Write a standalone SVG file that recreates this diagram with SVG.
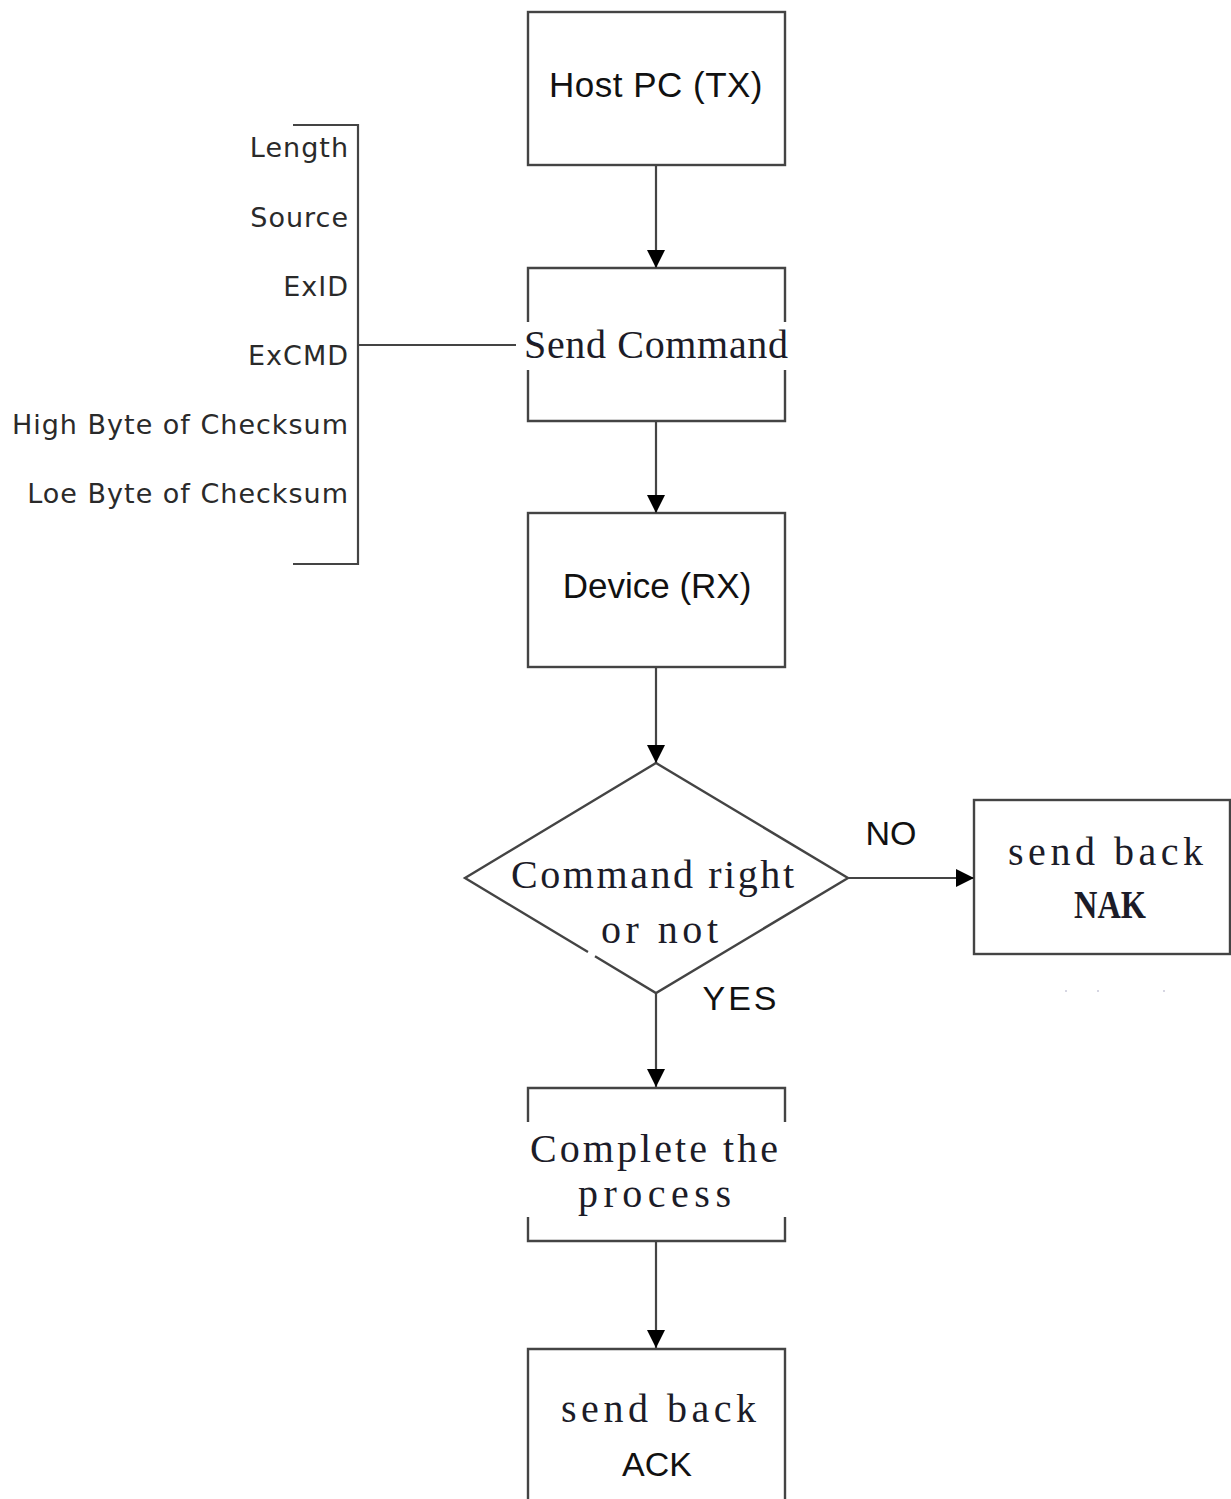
<svg xmlns="http://www.w3.org/2000/svg" width="1231" height="1499" viewBox="0 0 1231 1499">
<defs>
<marker id="arr" markerUnits="userSpaceOnUse" markerWidth="18" markerHeight="18" refX="18" refY="9" orient="auto">
<path d="M0,0 L18,9 L0,18 Z" fill="#000"/>
</marker>
<style>
.box{fill:none;stroke:#444;stroke-width:2.4}
.ln{fill:none;stroke:#444;stroke-width:2.2}
.sans{font-family:"Liberation Sans",Arial,sans-serif;fill:#111;text-anchor:middle}
.ser{font-family:"Liberation Serif","Times New Roman",serif;font-size:40px;fill:#1c1c28}
.lbl{font-family:"DejaVu Sans",Verdana,sans-serif;font-size:27px;letter-spacing:1px;fill:#2a2a2a;text-anchor:end}
</style>
</defs>
<rect width="1231" height="1499" fill="#fff"/>

<g id="fields">
<path class="ln" d="M293,125 H358 V564 H293"/>
<text class="lbl" x="349" y="157">Length</text>
<text class="lbl" x="349" y="227">Source</text>
<text class="lbl" x="349" y="296">ExID</text>
<text class="lbl" x="349" y="365">ExCMD</text>
<text class="lbl" x="349" y="434">High Byte of Checksum</text>
<text class="lbl" x="349" y="503">Loe Byte of Checksum</text>
</g>

<g id="host">
<rect class="box" x="528" y="12" width="257" height="153"/>
<text class="sans" x="656" y="97" font-size="35" letter-spacing="0.5">Host PC (TX)</text>
</g>

<g id="send">
<path class="box" d="M528,322 V268 H785 V322 M785,370 V421 H528 V370"/>
<text class="ser" x="524" y="358" textLength="264" lengthAdjust="spacing">Send Command</text>
</g>

<g id="device">
<rect class="box" x="528" y="513" width="257" height="154"/>
<text class="sans" x="657" y="598" font-size="35">Device (RX)</text>
</g>

<g id="decision">
<path class="box" d="M588,952 L465,878 L656,763 L848,878 L656,993 L595,956.3"/>
<text class="ser" x="511" y="888" textLength="283" lengthAdjust="spacing">Command right</text>
<text class="ser" x="601" y="943" textLength="117" lengthAdjust="spacing">or not</text>
</g>

<g id="nak">
<rect class="box" x="974" y="800" width="256" height="154"/>
<text class="ser" x="1008" y="865" textLength="195" lengthAdjust="spacing">send back</text>
<text class="ser" x="1110" y="918" font-size="34" font-weight="bold" fill="#000" textLength="72" lengthAdjust="spacingAndGlyphs" text-anchor="middle">NAK</text>
</g>

<g id="complete">
<path class="box" d="M528,1122 V1088 H785 V1122 M785,1217 V1241 H528 V1217"/>
<text class="ser" x="530" y="1162" textLength="248" lengthAdjust="spacing">Complete the</text>
<text class="ser" x="578" y="1207" textLength="153" lengthAdjust="spacing">process</text>
</g>

<g id="ack">
<path class="box" d="M528,1500 V1349 H785 V1500"/>
<text class="ser" x="561" y="1422" textLength="195" lengthAdjust="spacing">send back</text>
<text class="sans" x="657" y="1476" font-size="34">ACK</text>
</g>

<g id="connectors">
<line class="ln" x1="656" y1="165" x2="656" y2="268" marker-end="url(#arr)"/>
<line class="ln" x1="656" y1="421" x2="656" y2="513" marker-end="url(#arr)"/>
<line class="ln" x1="656" y1="667" x2="656" y2="763" marker-end="url(#arr)"/>
<line class="ln" x1="848" y1="878" x2="974" y2="878" marker-end="url(#arr)"/>
<line class="ln" x1="656" y1="993" x2="656" y2="1087" marker-end="url(#arr)"/>
<line class="ln" x1="656" y1="1241" x2="656" y2="1348" marker-end="url(#arr)"/>
<line class="ln" x1="358" y1="345" x2="516" y2="345"/>
<text class="sans" x="891" y="845" font-size="34">NO</text>
<text class="sans" x="741" y="1010" font-size="34" letter-spacing="3">YES</text>
</g>

<g id="dots" fill="#c8c8d8">
<circle cx="1066" cy="991" r="1"/>
<circle cx="1098" cy="991" r="1"/>
<circle cx="1164" cy="991" r="1"/>
</g>
</svg>
